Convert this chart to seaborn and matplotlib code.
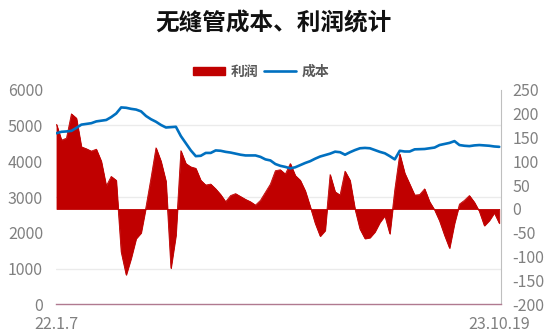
import matplotlib
matplotlib.use("Agg")
import matplotlib.pyplot as plt
import seaborn as sns
import numpy as np
import pandas as pd
from matplotlib.patches import Patch
from matplotlib.lines import Line2D

# ---- data ----
x_labels = ["22.1.7", "23.10.19"]
title = "无缝管成本、利润统计"
series_names = ["利润", "成本"]

cost = [4780, 4820, 4830, 4845, 4930, 5020, 5040, 5060, 5110, 5130,
        5150, 5230, 5330, 5500, 5490, 5460, 5440, 5390, 5260, 5170,
        5100, 5010, 4940, 4950, 4960, 4700, 4500, 4300, 4140, 4150,
        4230, 4230, 4300, 4290, 4260, 4240, 4210, 4180, 4160, 4160,
        4160, 4120, 4050, 4020, 3920, 3870, 3840, 3800, 3830, 3890,
        3950, 4000, 4070, 4130, 4170, 4210, 4265, 4250, 4180, 4250,
        4310, 4360, 4370, 4360, 4310, 4260, 4220, 4140, 4050, 4290,
        4270, 4270, 4330, 4335, 4340, 4360, 4380, 4450, 4480, 4510,
        4560, 4450, 4430, 4420, 4440, 4450, 4440, 4430, 4410, 4400]

profit = [177, 144, 148, 199, 190, 130, 126, 121, 125, 100,
          48, 68, 60, -90, -138, -103, -62, -50, 5, 65,
          128, 100, 58, -124, -55, 122, 95, 88, 85, 60,
          50, 52, 42, 30, 15, 28, 32, 26, 20, 15,
          8, 18, 35, 52, 80, 82, 73, 95, 70, 60,
          38, 5, -30, -57, -45, 72, 36, 29, 79, 60,
          0, -42, -62, -60, -48, -28, -14, -52, 40, 115,
          75, 52, 29, 30, 42, 15, -2, -25, -55, -82,
          -30, 10, 18, 28, 14, -5, -35, -24, -8, -30]

left_ticks = [0, 1000, 2000, 3000, 4000, 5000, 6000]
right_ticks = [-200, -150, -100, -50, 0, 50, 100, 150, 200, 250]

df = pd.DataFrame({"idx": np.arange(len(cost)), "成本": cost, "利润": profit})

# ---- style ----
sns.set_theme(style="white")
plt.rcParams["font.family"] = ["Noto Sans CJK SC", "DejaVu Sans"]
plt.rcParams["axes.unicode_minus"] = False

RED = "#C00000"
BLUE = "#0070C0"
TICK = "#808080"

fig = plt.figure(figsize=(5.54, 3.33), dpi=100)
ax = fig.add_axes([0.1002, 0.0856, 0.805, 0.6456])
ax2 = ax.twinx()

# profit area on right axis (drawn below the cost line)
ax2.fill_between(df["idx"], 0, df["利润"], color=RED, linewidth=0.6,
                 edgecolor=RED, zorder=2)
sns.lineplot(data=df, x="idx", y="利润", ax=ax2, color=RED, linewidth=0.6,
             zorder=2, legend=False)
ax2.set_ylim(-200, 250)
ax2.set_yticks(right_ticks)
# gridlines matching the left axis, drawn under the area
ax2.set_yticks([-200 + 75 * k for k in range(7)], minor=True)
ax2.grid(which="minor", axis="y", color="#EBEBEB", linewidth=1.0, zorder=0)
ax2.grid(which="major", visible=False)
ax2.set_axisbelow(True)

# cost line on left axis, on top
sns.lineplot(data=df, x="idx", y="成本", ax=ax, color=BLUE, linewidth=1.9,
             legend=False, zorder=3)
ax.set_ylim(0, 6000)
ax.set_yticks(left_ticks)
ax.set_xlim(-0.2, len(cost) - 1 + 0.45)
ax.set_xticks([0, len(cost) - 1])
ax.set_xticklabels(x_labels)
ax.grid(False)

ax.set_zorder(ax2.get_zorder() + 1)
ax.patch.set_visible(False)
ax2.patch.set_visible(True)
ax2.patch.set_facecolor("white")

for a in (ax, ax2):
    a.set_xlabel("")
    a.set_ylabel("")
    for s in a.spines.values():
        s.set_visible(False)

ax.spines["bottom"].set_visible(True)
ax.spines["bottom"].set_color("#B07A90")
ax.spines["bottom"].set_linewidth(1.0)
ax2.spines["right"].set_visible(True)
ax2.spines["right"].set_color("#BFBFBF")
ax2.spines["right"].set_linewidth(0.8)

ax.tick_params(axis="y", length=0, pad=9, labelsize=11.5, labelcolor=TICK)
ax.tick_params(axis="x", length=0, pad=8.5, labelsize=11.5, labelcolor=TICK)
ax2.tick_params(axis="y", which="both", length=0, pad=8, labelsize=11.5,
                labelcolor=TICK)

fig.text(0.493, 0.93, title, ha="center", va="center", fontsize=17,
         fontweight="bold", color="#111111")

handles = [Patch(facecolor=RED, edgecolor=RED),
           Line2D([0], [0], color=BLUE, linewidth=1.9)]
fig.legend(handles, series_names, loc="center", bbox_to_anchor=(0.472, 0.784),
           ncol=2, frameon=False,
           prop={"weight": "bold", "size": 10},
           handlelength=2.3, handleheight=0.6, handletextpad=0.4,
           columnspacing=0.4, labelcolor="#595959")

fig.savefig("out.png", dpi=100, facecolor="white")
